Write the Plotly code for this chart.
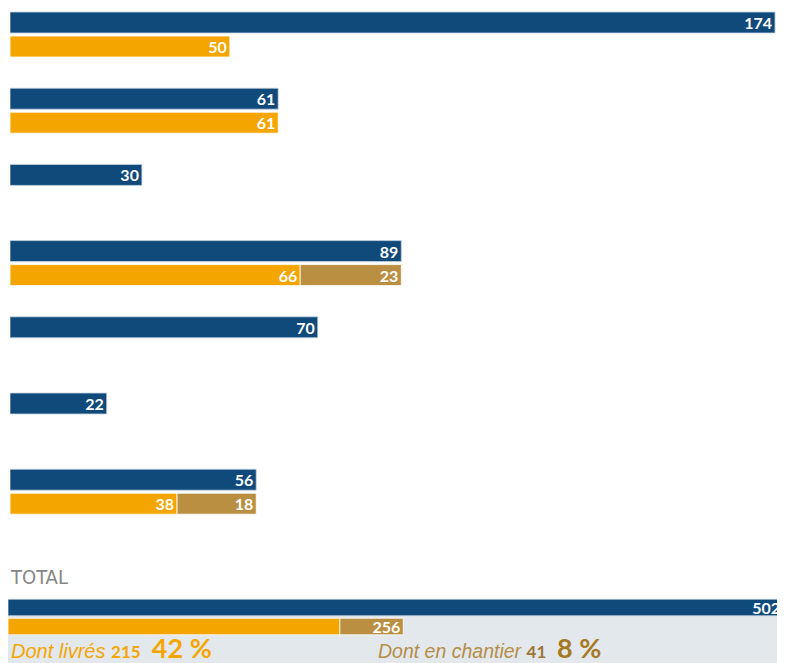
import plotly.graph_objects as go

# ---- data ----
groups = ["Opération 1", "Opération 2", "Opération 3", "Opération 4",
          "Opération 5", "Opération 6", "Opération 7"]
logements = [174, 61, 30, 89, 70, 22, 56]
livres = [50, 61, None, 66, None, None, 38]
en_chantier = [None, None, None, 23, None, None, 18]
total_label = "TOTAL"

# ---- derived totals ----
tot_log = sum(logements)
tot_liv = sum(v for v in livres if v is not None)
tot_ch = sum(v for v in en_chantier if v is not None)
pct_liv = int(100 * tot_liv / tot_log)
pct_ch = int(100 * tot_ch / tot_log)

BLUE = "#104A7B"
ORANGE = "#F5A500"
BROWN = "#BA8F42"
GREY_BG = "#E3E8EC"
W, H = 785, 663

lab_font = dict(family="Lato, 'Open Sans', sans-serif", size=16, color="white", weight="bold")
bar_txt = dict(textposition="inside", insidetextanchor="end", textangle=0,
               constraintext="none", textfont=lab_font)


def base_of(a):
    return [x if x is not None else 0 for x in a]


fig = go.Figure()

# top groups
fig.add_trace(go.Bar(
    y=groups, x=logements, orientation="h", offsetgroup="a",
    marker=dict(color=BLUE, line=dict(color="#c9d6e3", width=0.8)),
    text=[str(v) for v in logements], xaxis="x", yaxis="y", showlegend=False, **bar_txt,
))
fig.add_trace(go.Bar(
    y=groups, x=livres, orientation="h", offsetgroup="b",
    marker=dict(color=ORANGE, line=dict(color="white", width=0.8)),
    text=[str(v) if v is not None else "" for v in livres],
    xaxis="x", yaxis="y", showlegend=False, **bar_txt,
))
fig.add_trace(go.Bar(
    y=groups, x=en_chantier, base=base_of(livres), orientation="h", offsetgroup="b",
    marker=dict(color=BROWN, line=dict(color="white", width=0.8)),
    text=[str(v) if v is not None else "" for v in en_chantier],
    xaxis="x", yaxis="y", showlegend=False, **bar_txt,
))

# total
fig.add_trace(go.Bar(
    y=[total_label], x=[tot_log], orientation="h", offsetgroup="a",
    marker=dict(color=BLUE, line=dict(color="#c9d6e3", width=0.8)),
    text=[str(tot_log)], xaxis="x2", yaxis="y2", showlegend=False, **bar_txt,
))
fig.add_trace(go.Bar(
    y=[total_label], x=[tot_liv], orientation="h", offsetgroup="b",
    marker=dict(color=ORANGE, line=dict(color="white", width=0.8)),
    xaxis="x2", yaxis="y2", showlegend=False,
))
fig.add_trace(go.Bar(
    y=[total_label], x=[tot_ch], base=[tot_liv], orientation="h", offsetgroup="b",
    marker=dict(color=BROWN, line=dict(color="white", width=0.8)),
    text=[str(tot_liv + tot_ch)], xaxis="x2", yaxis="y2", showlegend=False, **bar_txt,
))

hid = dict(showticklabels=False, showgrid=False, zeroline=False, showline=False, ticks="")

pitch = 76.2
top_c = 26.5 / pitch
top_h = 522
b_c, b_half = 609.0, 30.15
fig.update_layout(
    width=W, height=H,
    margin=dict(l=0, r=0, t=0, b=0),
    paper_bgcolor="white", plot_bgcolor="rgba(0,0,0,0)",
    barmode="group", bargap=0.37, bargroupgap=0.125,
    xaxis=dict(domain=[2 / W, 777 / W], range=[0, max(logements) * 1.013], **hid),
    yaxis=dict(domain=[(H - top_h) / H, 1], type="category",
               range=[-top_c + top_h / pitch, -top_c], **hid),
    xaxis2=dict(domain=[0, 775 / W], range=[0, tot_log], anchor="y2", **hid),
    yaxis2=dict(domain=[(H - b_c - b_half) / H, (H - b_c + b_half) / H], type="category",
                range=[0.5, -0.5], anchor="x2", **hid),
    shapes=[dict(type="rect", xref="paper", yref="paper", x0=0, x1=1,
                 y0=0, y1=(H - 591) / H, fillcolor=GREY_BG, line=dict(width=0),
                 layer="below")],
    annotations=[
        dict(xref="paper", yref="paper", x=0, y=(H - 569) / H, xanchor="left",
             yanchor="middle", showarrow=False, text=total_label,
             font=dict(family="'Liberation Sans Narrow', 'DejaVu Sans Condensed', 'Liberation Sans', sans-serif",
                       size=20, color="#858585")),
        dict(xref="paper", yref="paper", x=1 / W, y=5 / H, xanchor="left",
             yanchor="bottom", showarrow=False,
             text=("<i>Dont livrés</i> "
                   f"<span style='font-family:Lato;font-size:17px'><b>{tot_liv}</b></span>"
                   f"  <span style='font-family:Lato;font-size:27px'><b>{pct_liv} %</b></span>"),
             font=dict(family="'Liberation Sans', Arial, sans-serif", size=20, color=ORANGE)),
        dict(xref="paper", yref="paper", x=368 / W, y=5 / H, xanchor="left",
             yanchor="bottom", showarrow=False,
             text=("<i>Dont en chantier</i> "
                   f"<span style='font-family:Lato;font-size:17px;color:#9C7634'><b>{tot_ch}</b></span>"
                   f"  <span style='font-family:Lato;font-size:27px;color:#A6781F'><b>{pct_ch} %</b></span>"),
             font=dict(family="'Liberation Sans', Arial, sans-serif", size=19.5, color="#B58D47")),
    ],
)

fig.write_html("out.html")
